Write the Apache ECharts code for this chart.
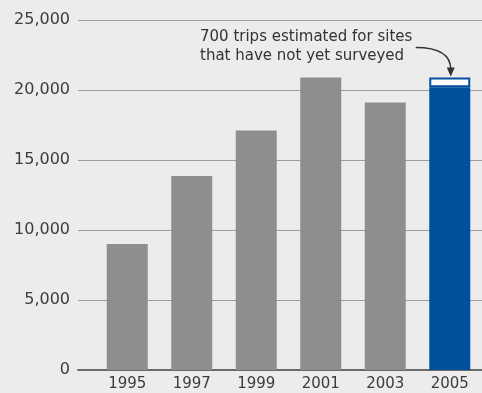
<!DOCTYPE html>
<html>
<head>
<meta charset="utf-8">
<script src="https://cdn.jsdelivr.net/npm/echarts@6/dist/echarts.min.js"></script>
<style>
  html, body { margin: 0; padding: 0; background: #ececec; }
  #chart { width: 482px; height: 393px; }
</style>
</head>
<body>
<div id="chart"></div>
<script>
// trips per year
const years = ['1995', '1997', '1999', '2001', '2003', '2005']
const surveyed = [9000, 13850, 17100, 20900, 19100, 20200]
const estimated = [null, null, null, null, null, 700] // sites not yet surveyed
const yTicks = { min: 0, max: 25000, interval: 5000 }
const note = '700 trips estimated for sites\nthat have not yet surveyed'

const GRAY = '#8d8e90'
const BLUE = '#00509e'
const lastIdx = years.length - 1

const myChart = echarts.init(document.getElementById('chart'))

const option = {
  animation: false,
  backgroundColor: '#ececec',
  textStyle: { fontFamily: 'DejaVu Sans' },
  grid: [
    { left: 78, right: 0, top: 20, bottom: 23 }, // gridlines + y labels
    { left: 95, width: 390, top: 20, bottom: 23 } // bars
  ],
  xAxis: [
    {
      type: 'category',
      gridIndex: 0,
      data: years,
      axisLine: { lineStyle: { color: '#6a6a6a', width: 2 } },
      axisTick: { show: false },
      axisLabel: { show: false }
    },
    {
      type: 'category',
      gridIndex: 1,
      data: years,
      axisLine: { show: false },
      axisTick: { show: false },
      axisLabel: { color: '#3c3c3c', fontSize: 15, margin: 7 }
    }
  ],
  yAxis: [
    {
      type: 'value',
      gridIndex: 0,
      min: yTicks.min,
      max: yTicks.max,
      interval: yTicks.interval,
      axisLine: { show: false },
      axisTick: { show: false },
      splitLine: { lineStyle: { color: '#9c9c9c', width: 1 } },
      axisLabel: {
        color: '#3c3c3c',
        fontSize: 16,
        margin: 8,
        formatter: (v) => v.toLocaleString('en-US')
      }
    },
    {
      type: 'value',
      gridIndex: 1,
      min: yTicks.min,
      max: yTicks.max,
      interval: yTicks.interval,
      show: false
    }
  ],
  series: [
    {
      name: 'surveyed',
      type: 'bar',
      xAxisIndex: 1,
      yAxisIndex: 1,
      stack: 'trips',
      barWidth: 41,
      data: surveyed.map((v, i) => ({
        value: v,
        itemStyle: { color: i === lastIdx ? BLUE : GRAY }
      }))
    },
    {
      name: 'estimated',
      type: 'bar',
      xAxisIndex: 1,
      yAxisIndex: 1,
      stack: 'trips',
      barWidth: 41,
      itemStyle: { color: '#ffffff', borderColor: BLUE, borderWidth: 2 },
      data: estimated
    }
  ]
}

myChart.setOption(option)

// annotation text + curved arrow pointing at the top of the last bar
const tip = myChart.convertToPixel({ gridIndex: 1 }, [lastIdx, surveyed[lastIdx] + estimated[lastIdx]])
const tx = tip[0] + 1
const ty = tip[1] - 1
const sx = tx - 35
const sy = ty - 29

myChart.setOption({
  graphic: [
    {
      type: 'text',
      left: 200,
      top: 28,
      style: {
        text: note,
        font: '15px "DejaVu Sans"',
        fill: '#333',
        lineHeight: 19
      }
    },
    {
      type: 'bezierCurve',
      shape: {
        x1: sx, y1: sy,
        cpx1: sx + 24, cpy1: sy,
        cpx2: tx, cpy2: sy + 8,
        x2: tx, y2: ty - 7
      },
      style: { stroke: '#333', lineWidth: 1.5, fill: null }
    },
    {
      type: 'polygon',
      shape: { points: [[tx - 4, ty - 9], [tx + 4, ty - 9], [tx, ty]] },
      style: { fill: '#333' }
    }
  ]
})
</script>
</body>
</html>
